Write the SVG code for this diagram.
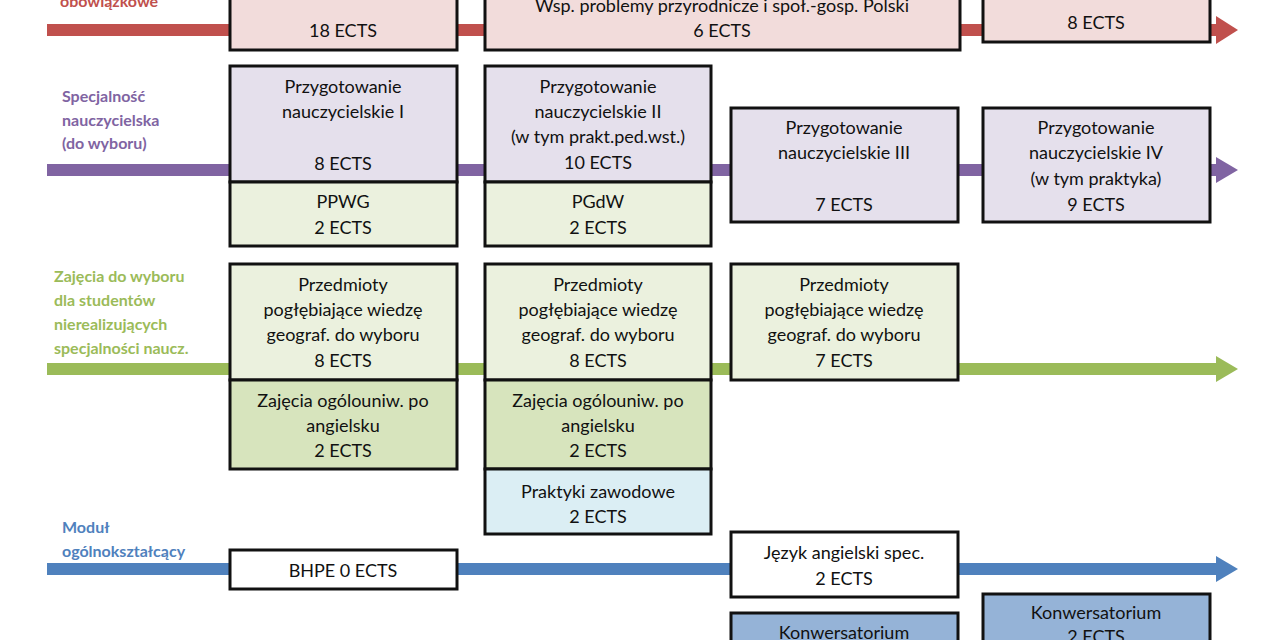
<svg xmlns="http://www.w3.org/2000/svg" width="1280" height="640" viewBox="0 0 1280 640">
<style>
.t{font-family:Lato,"Open Sans",sans-serif;font-size:18px;fill:#111;text-anchor:middle}
.l{font-family:Lato,"Open Sans",sans-serif;font-size:16px;font-weight:bold}
.b{stroke:#111;stroke-width:3}
.ln{stroke-width:12}
</style>
<rect width="1280" height="640" fill="#fff"/>
<g id="connectors">
<line class="ln" x1="47" y1="30" x2="1218" y2="30" stroke="#c0504d"/><polygon points="1216,16 1238,30 1216,44" fill="#c0504d"/>
<line class="ln" x1="47" y1="170" x2="1218" y2="170" stroke="#8064a2"/><polygon points="1216,157 1238,170 1216,183" fill="#8064a2"/>
<line class="ln" x1="47" y1="369" x2="1218" y2="369" stroke="#9bbb59"/><polygon points="1216,356 1238,369 1216,382" fill="#9bbb59"/>
<line class="ln" x1="47" y1="569" x2="1218" y2="569" stroke="#4f81bd"/><polygon points="1216,556 1238,569 1216,582" fill="#4f81bd"/>
</g>
<g id="labels">
<text class="l" x="60" y="7" fill="#c0504d">obowiązkowe</text>
<text class="l" fill="#8064a2"><tspan x="62" y="102">Specjalność</tspan><tspan x="62" y="126">nauczycielska</tspan><tspan x="62" y="149">(do wyboru)</tspan></text>
<text class="l" fill="#9bbb59"><tspan x="54" y="282">Zajęcia do wyboru</tspan><tspan x="54" y="306">dla studentów</tspan><tspan x="54" y="330">nierealizujących</tspan><tspan x="54" y="354">specjalności naucz.</tspan></text>
<text class="l" fill="#4f81bd"><tspan x="62" y="533">Moduł</tspan><tspan x="62" y="557">ogólnokształcący</tspan></text>
</g>
<g id="n1"><rect class="b" x="230" y="-10" width="227" height="60" fill="#f2dcdb"/><text class="t" x="343" y="37">18 ECTS</text></g>
<g id="n2"><rect class="b" x="485" y="-10" width="475" height="60" fill="#f2dcdb"/><text class="t" x="722" y="12">Wsp. problemy przyrodnicze i społ.-gosp. Polski</text><text class="t" x="722" y="37">6 ECTS</text></g>
<g id="n3"><rect class="b" x="983" y="-10" width="227" height="52" fill="#f2dcdb"/><text class="t" x="1096" y="29">8 ECTS</text></g>
<g id="n4"><rect class="b" x="230" y="66" width="227" height="116" fill="#e5e0ec"/><text class="t" x="343"><tspan x="343" y="93">Przygotowanie</tspan><tspan x="343" y="118">nauczycielskie I</tspan><tspan x="343" y="170">8 ECTS</tspan></text></g>
<g id="n5"><rect class="b" x="230" y="182" width="227" height="64" fill="#ebf1de"/><text class="t"><tspan x="343" y="208">PPWG</tspan><tspan x="343" y="234">2 ECTS</tspan></text></g>
<g id="n6"><rect class="b" x="485" y="66" width="226" height="116" fill="#e5e0ec"/><text class="t"><tspan x="598" y="93">Przygotowanie</tspan><tspan x="598" y="118">nauczycielskie II</tspan><tspan x="598" y="143">(w tym prakt.ped.wst.)</tspan><tspan x="598" y="169">10 ECTS</tspan></text></g>
<g id="n7"><rect class="b" x="485" y="182" width="226" height="64" fill="#ebf1de"/><text class="t"><tspan x="598" y="208">PGdW</tspan><tspan x="598" y="234">2 ECTS</tspan></text></g>
<g id="n8"><rect class="b" x="731" y="108" width="227" height="114" fill="#e5e0ec"/><text class="t"><tspan x="844" y="134">Przygotowanie</tspan><tspan x="844" y="159">nauczycielskie III</tspan><tspan x="844" y="211">7 ECTS</tspan></text></g>
<g id="n9"><rect class="b" x="983" y="108" width="227" height="114" fill="#e5e0ec"/><text class="t"><tspan x="1096" y="134">Przygotowanie</tspan><tspan x="1096" y="159">nauczycielskie IV</tspan><tspan x="1096" y="185">(w tym praktyka)</tspan><tspan x="1096" y="211">9 ECTS</tspan></text></g>
<g id="n10"><rect class="b" x="230" y="264" width="227" height="116" fill="#ebf1de"/><text class="t"><tspan x="343" y="291">Przedmioty</tspan><tspan x="343" y="316">pogłębiające wiedzę</tspan><tspan x="343" y="341">geograf. do wyboru</tspan><tspan x="343" y="367">8 ECTS</tspan></text></g>
<g id="n11"><rect class="b" x="230" y="380" width="227" height="89" fill="#d7e4bd"/><text class="t"><tspan x="343" y="407">Zajęcia ogólouniw. po</tspan><tspan x="343" y="432">angielsku</tspan><tspan x="343" y="457">2 ECTS</tspan></text></g>
<g id="n12"><rect class="b" x="485" y="264" width="226" height="116" fill="#ebf1de"/><text class="t"><tspan x="598" y="291">Przedmioty</tspan><tspan x="598" y="316">pogłębiające wiedzę</tspan><tspan x="598" y="341">geograf. do wyboru</tspan><tspan x="598" y="367">8 ECTS</tspan></text></g>
<g id="n13"><rect class="b" x="485" y="380" width="226" height="89" fill="#d7e4bd"/><text class="t"><tspan x="598" y="407">Zajęcia ogólouniw. po</tspan><tspan x="598" y="432">angielsku</tspan><tspan x="598" y="457">2 ECTS</tspan></text></g>
<g id="n14"><rect class="b" x="485" y="469" width="226" height="65" fill="#dbeef4"/><text class="t"><tspan x="598" y="498">Praktyki zawodowe</tspan><tspan x="598" y="523">2 ECTS</tspan></text></g>
<g id="n15"><rect class="b" x="731" y="264" width="227" height="116" fill="#ebf1de"/><text class="t"><tspan x="844" y="291">Przedmioty</tspan><tspan x="844" y="316">pogłębiające wiedzę</tspan><tspan x="844" y="341">geograf. do wyboru</tspan><tspan x="844" y="367">7 ECTS</tspan></text></g>
<g id="n16"><rect class="b" x="230" y="550" width="227" height="39" fill="#fff"/><text class="t" x="343" y="577">BHPE 0 ECTS</text></g>
<g id="n17"><rect class="b" x="731" y="532" width="227" height="65" fill="#fff"/><text class="t"><tspan x="844" y="559">Język angielski spec.</tspan><tspan x="844" y="585">2 ECTS</tspan></text></g>
<g id="n18"><rect class="b" x="731" y="613" width="227" height="50" fill="#95b3d7"/><text class="t" x="844" y="639">Konwersatorium</text></g>
<g id="n19"><rect class="b" x="983" y="594" width="227" height="60" fill="#95b3d7"/><text class="t"><tspan x="1096" y="619">Konwersatorium</tspan><tspan x="1096" y="643">2 ECTS</tspan></text></g>
</svg>
